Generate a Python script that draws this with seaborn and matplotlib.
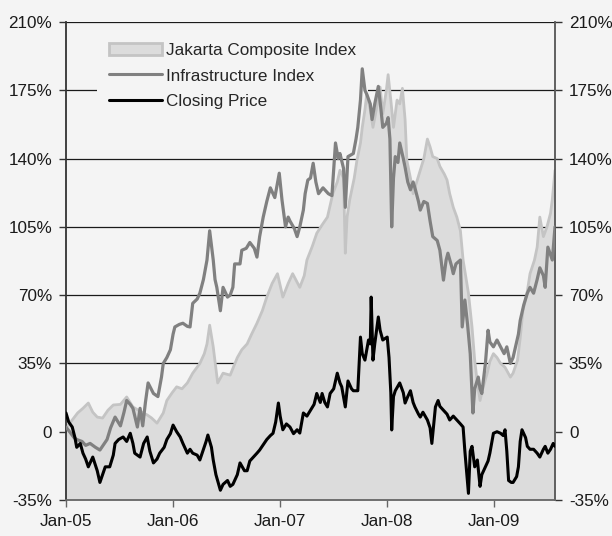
import numpy as np
import pandas as pd
import matplotlib
matplotlib.use("Agg")
import matplotlib.pyplot as plt
import matplotlib.dates as mdates
from matplotlib.patches import Patch
from matplotlib.lines import Line2D
import seaborn as sns

# ---- data (months since Jan-2005, % change) ----
jci_months = [0, 0.7, 1.3, 1.9, 2.5, 3.0, 3.5, 4.1, 4.7, 5.3, 6.1, 6.8, 7.5, 8.3, 9.1, 9.6, 10.2, 10.9, 11.3, 11.9,
              12.4, 13.0, 13.6, 14.2, 15.0, 15.5, 15.8, 16.1, 16.5, 17.0, 17.6, 18.4, 19.2, 19.7, 20.3, 20.8, 21.4, 22.0,
              22.5, 23.1, 23.7, 24.3, 24.9, 25.4, 26.2, 26.7, 27.0, 27.6, 28.1, 28.7, 29.3, 29.9, 30.4, 30.7, 31.1, 31.3,
              31.5, 31.8, 32.3, 32.6, 33.0, 33.2, 33.5, 33.7, 34.1, 34.4, 34.9, 35.2, 35.5, 35.9, 36.1, 36.4, 36.7, 37.1,
              37.4, 37.7, 38.0, 38.2, 38.6, 38.9, 39.3, 39.7, 40.1, 40.5, 40.8, 41.1, 41.6, 41.9, 42.4, 42.7, 43.0, 43.4,
              43.8, 44.2, 44.5, 45.1, 45.5, 45.8, 46.1, 46.4, 46.7, 47.2, 47.5, 47.9, 48.3, 48.7, 49.2, 49.8, 50.1, 50.6,
              50.9, 51.2, 51.7, 52.0, 52.5, 52.8, 53.1, 53.5, 53.9, 54.3, 54.5, 54.8]
jci_values = [2, 6, 9.6, 12, 14.7, 10, 7.5, 7, 11, 13.7, 14, 17.8, 12.7, 10.5, 8.6, 7, 4.4, 9.6, 16, 20,
              23, 22, 25, 30, 35, 40, 45, 54.6, 43.5, 25, 30, 29, 38, 42, 45, 50, 55.6, 62,
              69, 76, 81, 69, 76, 81, 74, 80, 88, 95, 101.7, 106, 110, 122, 128, 134, 130, 91.5,
              110, 119, 130, 139, 148, 156, 165, 173, 165, 156, 168, 176.6, 163, 175, 183, 170, 156, 170,
              168, 176, 160, 139, 130, 122, 128, 134, 140, 150, 146, 141, 140, 136, 132, 129, 122, 115,
              110, 103, 88, 71, 53.7, 36.7, 25, 16, 22, 30, 36, 40, 38, 35, 33, 28, 30, 36.7,
              48, 62, 72, 81, 88, 94.6, 110, 100, 105, 112, 119, 134]

infra_months = [0, 0.4, 0.9, 1.2, 1.8, 2.2, 2.7, 3.3, 3.8, 4.3, 4.6, 5.0, 5.5, 6.1, 6.5, 6.8, 7.2, 7.5, 8.0, 8.3,
                8.6, 8.9, 9.2, 9.8, 10.3, 10.7, 10.9, 11.3, 11.7, 12.0, 12.2, 12.7, 13.1, 13.6, 13.9, 14.2, 14.7, 15.0,
                15.4, 15.8, 16.1, 16.5, 16.7, 16.9, 17.3, 17.6, 18.1, 18.4, 18.7, 18.9, 19.5, 19.7, 20.2, 20.6, 21.1,
                21.4, 21.7, 22.1, 22.5, 22.9, 23.4, 23.9, 24.2, 24.6, 24.9, 25.1, 25.6, 25.9, 26.2, 26.6, 26.8, 27.1,
                27.4, 27.7, 28.0, 28.3, 28.8, 29.4, 29.8, 30.2, 30.5, 30.7, 31.1, 31.3, 31.6, 32.2, 32.5, 32.7, 33.0,
                33.2, 33.5, 33.7, 34.1, 34.3, 34.6, 35.0, 35.3, 35.5, 35.9, 36.1, 36.3, 36.5, 36.7, 36.9, 37.2, 37.4,
                37.8, 38.0, 38.3, 38.6, 38.9, 39.1, 39.5, 39.7, 40.1, 40.5, 40.8, 41.1, 41.6, 41.9, 42.3, 42.6, 42.8,
                43.2, 43.4, 43.7, 44.2, 44.4, 44.7, 45.0, 45.3, 45.6, 45.8, 46.2, 46.4, 46.6, 47.0, 47.3, 47.5, 47.9,
                48.3, 48.7, 49.1, 49.4, 49.8, 50.1, 50.3, 50.7, 50.9, 51.3, 51.7, 52.0, 52.4, 52.8, 53.1, 53.5, 53.7,
                54.0, 54.5, 54.8]
infra_values = [2.4, 0, -3, -4, -5, -7, -6, -8, -9.4, -6, -4, 2, 7.5, 3, 10, 16, 14, 12, 2.4, 12,
                3, 15, 25, 19.6, 18, 28, 35, 38, 42, 50, 53.7, 55, 55.6, 54, 53.7, 65.8, 68, 71,
                78, 88, 103, 88, 78, 74, 62, 74, 69, 70, 74, 86, 86, 93, 94, 97, 94,
                89.5, 100, 110, 118, 125, 120, 132.5, 119, 105, 110, 108, 104, 100, 105, 113.6, 122, 129,
                130, 137.6, 128, 122, 125, 122, 121, 148, 140, 142.6, 135, 115, 141, 142.6, 150, 156, 170,
                186, 175, 173, 168, 160, 168, 177, 165, 156, 158, 161, 150, 105, 130, 141, 138, 148,
                140, 135.6, 128, 124, 128, 125, 118, 113.6, 118, 117, 108, 100, 98, 93, 77.7, 88, 91.5,
                85, 81, 86, 88, 53.7, 67.5, 55, 40, 9.6, 22, 28, 22, 19.6, 35, 52, 46, 43.5,
                47, 43.5, 40, 43.5, 35, 38, 42, 50, 57, 65, 71, 74, 71, 78, 84, 80, 74,
                94.6, 88, 105]

close_months = [0, 0.3, 0.7, 1.0, 1.2, 1.6, 1.9, 2.2, 2.5, 2.8, 3.0, 3.5, 3.8, 4.1, 4.4, 4.9, 5.3, 5.5, 5.9, 6.4,
                6.8, 7.2, 7.5, 7.7, 8.3, 8.7, 9.1, 9.4, 9.8, 10.2, 10.5, 11.0, 11.3, 11.7, 12.0, 12.4, 12.8, 13.1,
                13.6, 13.9, 14.2, 14.7, 15.0, 15.4, 15.7, 15.9, 16.3, 16.5, 16.8, 17.3, 17.6, 18.1, 18.4, 18.7, 19.2,
                19.5, 20.0, 20.3, 20.6, 21.0, 21.4, 21.7, 22.2, 22.5, 22.9, 23.2, 23.5, 23.8, 24.0, 24.3, 24.7, 25.1,
                25.5, 25.9, 26.2, 26.6, 27.0, 27.4, 27.8, 28.1, 28.5, 28.7, 29.0, 29.3, 29.6, 30.0, 30.4, 30.7, 30.9,
                31.3, 31.6, 32.0, 32.2, 32.5, 32.7, 33.0, 33.2, 33.5, 33.9, 34.1, 34.2, 34.4, 34.6, 35.0, 35.2, 35.5,
                36.0, 36.2, 36.4, 36.5, 36.7, 36.9, 37.4, 37.8, 38.0, 38.3, 38.6, 38.9, 39.1, 39.5, 39.7, 40.0, 40.5,
                40.8, 41.0, 41.4, 41.7, 41.9, 42.3, 42.7, 43.0, 43.4, 43.8, 44.2, 44.5, 44.7, 45.1, 45.3, 45.5, 45.8,
                46.1, 46.4, 46.6, 47.0, 47.3, 47.5, 47.9, 48.3, 48.7, 49.0, 49.2, 49.4, 49.6, 49.9, 50.1, 50.5, 50.7,
                50.9, 51.1, 51.5, 51.7, 52.0, 52.4, 52.8, 53.1, 53.5, 53.7, 54.0, 54.3, 54.6, 54.8]
close_values = [9.6, 5, 2.4, -3, -8, -6, -11, -14, -18, -15, -13, -20, -26, -22, -18, -18, -12, -6, -4, -2.7,
                -5, -0.8, -6, -11, -13, -6, -2.7, -10, -16, -14, -11, -8, -4, -1, 3.4, 0, -2.7, -6,
                -11, -9, -11, -12, -14.5, -9, -5, -1.7, -8, -14.5, -22, -30, -27, -25, -28, -27, -22,
                -16, -20, -20, -15, -13, -11, -9.4, -6, -4, -2, -0.8, 5, 14.7, 8, 1, 4, 2.4,
                -1, 1, -0.7, 9.6, 8, 11, 14, 19.6, 15, 19.6, 15, 12.7, 19.6, 22, 30, 25, 23,
                12.7, 26, 22, 21, 21, 21, 48.5, 40, 36.7, 47, 45, 69, 36.7, 45, 58.8, 52, 47,
                48.5, 38, 20, 0.9, 18, 21, 25, 20, 14.7, 18, 21, 15, 12.7, 9, 7.5, 10, 6,
                2, -6, 12.7, 16, 13, 11, 9, 6, 8, 6, 4, 2.4, -10, -31.6, -10, -7.5, -18,
                -14.5, -28, -22, -18, -15, -11, -0.8, 0, -0.8, -2, 1, -10, -25, -26, -26, -23, -18,
                -5, 1, -3, -7.5, -9, -9, -11, -13, -9, -7.5, -11, -9, -6, -7.5]

series_names = ["Jakarta Composite Index", "Infrastructure Index", "Closing Price"]
y_ticks = [-35, 0, 35, 70, 105, 140, 175, 210]
y_tick_labels = ["-35%", "0", "35%", "70%", "105%", "140%", "175%", "210%"]
x_tick_years = [2005, 2006, 2007, 2008, 2009]

base = pd.Timestamp("2005-01-01")
def to_dates(months):
    return base + pd.to_timedelta(np.asarray(months) * 30.4375, unit="D")

jci = pd.DataFrame({"date": to_dates(jci_months), "value": jci_values})
infra = pd.DataFrame({"date": to_dates(infra_months), "value": infra_values})
close = pd.DataFrame({"date": to_dates(close_months), "value": close_values})

# ---- style ----
sns.set_theme(style="white")
BG = "#f4f4f4"
plt.rcParams["font.family"] = ["Liberation Sans", "DejaVu Sans"]
plt.rcParams["font.size"] = 12.3

fig = plt.figure(figsize=(6.12, 5.36), dpi=100, facecolor=BG)
ax = fig.add_axes([66 / 612, 36 / 536, 489 / 612, 478 / 536])
ax.set_facecolor(BG)

ax.fill_between(jci["date"], jci["value"], -35, color="#dcdcdc", lw=0, zorder=1)
sns.lineplot(data=jci, x="date", y="value", ax=ax, color="#c4c4c4", lw=2.0, zorder=2)
sns.lineplot(data=infra, x="date", y="value", ax=ax, color="#808080", lw=2.3, zorder=3)
sns.lineplot(data=close, x="date", y="value", ax=ax, color="#000000", lw=2.2, zorder=4)

ax.set_ylim(-35, 210)
ax.set_xlim(base, to_dates([54.8])[0])
ax.set_yticks(y_ticks)
ax.set_yticklabels(y_tick_labels)
ax.set_xticks([pd.Timestamp(f"{y}-01-01") for y in x_tick_years])
ax.xaxis.set_major_formatter(mdates.DateFormatter("%b-%y"))
ax.set_xlabel("")
ax.set_ylabel("")

ax.set_axisbelow(True)
ax.yaxis.grid(True, color="#1a1a1a", lw=0.9, zorder=0)
ax.xaxis.grid(False)

for side in ["left", "right", "bottom"]:
    ax.spines[side].set_visible(True)
ax.spines["left"].set_color("#333333")
ax.spines["left"].set_linewidth(1.3)
ax.spines["right"].set_color("#555555")
ax.spines["right"].set_linewidth(1.3)
ax.spines["bottom"].set_color("#666666")
ax.spines["bottom"].set_linewidth(1.3)
ax.spines["top"].set_visible(False)

ax.tick_params(axis="y", which="major", left=True, right=True, labelleft=True, labelright=True,
               direction="out", length=5, width=1, color="#333333", pad=5, labelsize=12.3, labelcolor="#1a1a1a")
ax.tick_params(axis="x", which="major", bottom=True, direction="out", length=5, width=1,
               color="#666666", pad=5, labelsize=12.3, labelcolor="#1a1a1a")

handles = [
    Patch(facecolor="#dcdcdc", edgecolor="#c4c4c4", linewidth=2),
    Line2D([0], [0], color="#808080", lw=2.2),
    Line2D([0], [0], color="#000000", lw=2.2),
]
leg = ax.legend(handles, series_names, loc="upper left", bbox_to_anchor=(0.063, 0.982),
                borderaxespad=0, frameon=True, facecolor=BG, edgecolor="none", framealpha=1, fancybox=False,
                handlelength=3.1, handleheight=0.75, handletextpad=0.25, labelspacing=0.62,
                borderpad=0.7, fontsize=12.3)
# legend sits above the gridlines but beneath the data
leg.set_zorder(0.8)

fig.savefig("out.png", dpi=100, facecolor=BG)
